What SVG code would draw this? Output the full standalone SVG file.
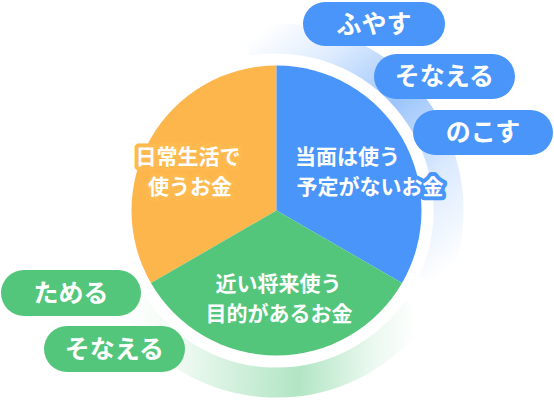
<svg xmlns="http://www.w3.org/2000/svg" width="554" height="400" viewBox="0 0 554 400">
<defs>
<linearGradient id="gBlue" gradientUnits="userSpaceOnUse" x1="246.6" y1="41.1" x2="432.4" y2="283.2">
<stop offset="0" stop-color="#4A95F9" stop-opacity="0"/>
<stop offset="0.2" stop-color="#4A95F9" stop-opacity="0.18"/>
<stop offset="0.45" stop-color="#4A95F9" stop-opacity="0.55"/>
<stop offset="0.72" stop-color="#4A95F9" stop-opacity="0.2"/>
<stop offset="1" stop-color="#4A95F9" stop-opacity="0"/>
</linearGradient>
<linearGradient id="gGreen" gradientUnits="userSpaceOnUse" x1="127.5" y1="296.5" x2="417.4" y2="309.2">
<stop offset="0" stop-color="#53C67B" stop-opacity="0"/>
<stop offset="0.2" stop-color="#53C67B" stop-opacity="0.1"/>
<stop offset="0.6" stop-color="#53C67B" stop-opacity="0.45"/>
<stop offset="0.85" stop-color="#53C67B" stop-opacity="0.12"/>
<stop offset="1" stop-color="#53C67B" stop-opacity="0"/>
</linearGradient>
</defs>
<style>
text{font-family:"Noto Sans CJK JP","Noto Sans",sans-serif;font-weight:700;fill:#fff;text-anchor:middle}
.pie{font-size:21px;stroke-width:8;stroke-linejoin:round;paint-order:stroke}
.pill{font-size:25px}
.blue{fill:#4A95F9}
.green{fill:#53C67B}
.orange{fill:#FDB64C}
.ring{fill:none;stroke-width:30}
</style>
<rect width="554" height="400" fill="#fff"/>
<g id="connectors">
<path class="ring" d="M246.6 41.1 A172 172 0 0 1 432.4 283.2" stroke="url(#gBlue)"/>
<path class="ring" d="M417.4 309.2 A172 172 0 0 1 127.5 296.5" stroke="url(#gGreen)"/>
</g>
<g id="pie-orange">
<path class="orange" d="M276.5 210.5 L276.5 65.5 A145 145 0 0 0 150.93 283 Z"/>
<text class="pie" x="188" y="163.5" stroke="#FEB94F">日常生活で</text>
<text class="pie" x="190" y="193.5" stroke="#FEB94F">使うお金</text>
</g>
<g id="pie-blue">
<path class="blue" d="M276.5 210.5 L276.5 65.5 A145 145 0 0 1 402.07 283 Z"/>
<text class="pie" x="347.5" y="163.5" stroke="#4A95F9">当面は使う</text>
<text class="pie" x="370" y="193.5" stroke="#4A95F9">予定がないお金</text>
</g>
<g id="pie-green">
<path class="green" d="M276.5 210.5 L402.07 283 A145 145 0 0 1 150.93 283 Z"/>
<text class="pie" x="278.5" y="290.5" stroke="#53C67B">近い将来使う</text>
<text class="pie" x="279" y="320.5" stroke="#53C67B">目的があるお金</text>
</g>
<g id="pill-fuyasu">
<rect class="blue" x="303" y="2" width="142" height="44" rx="22"/>
<text class="pill" x="374" y="32.5">ふやす</text>
</g>
<g id="pill-sonaeru-blue">
<rect class="blue" x="374" y="54" width="141" height="45" rx="22.5"/>
<text class="pill" x="444.5" y="85">そなえる</text>
</g>
<g id="pill-nokosu">
<rect class="blue" x="413" y="110" width="140" height="45" rx="22.5"/>
<text class="pill" x="483" y="141">のこす</text>
</g>
<g id="pill-tameru">
<rect class="green" x="1" y="270" width="140" height="46" rx="23"/>
<text class="pill" x="71" y="301.5">ためる</text>
</g>
<g id="pill-sonaeru-green">
<rect class="green" x="44" y="326" width="141" height="46" rx="23"/>
<text class="pill" x="114.5" y="357.5">そなえる</text>
</g>
</svg>
